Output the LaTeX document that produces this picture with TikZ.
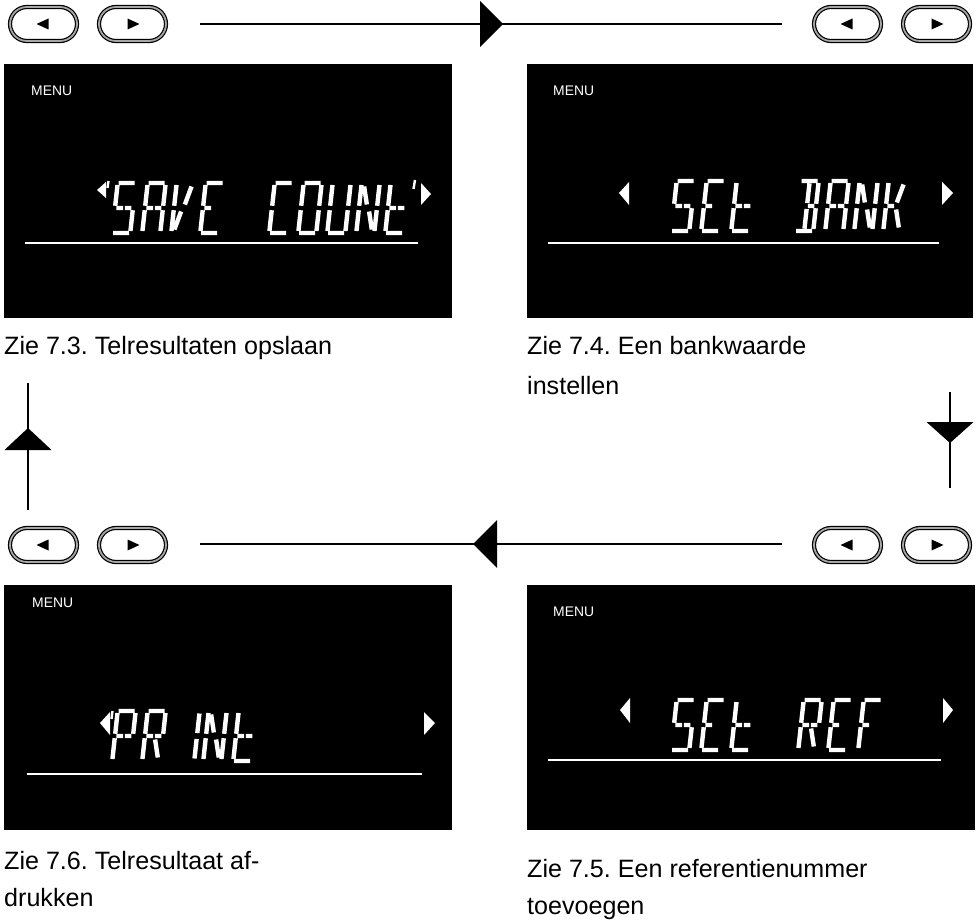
\documentclass[tikz,border=0pt]{standalone}
\usepackage{fontspec}
\setmainfont{Liberation Sans}
\frenchspacing
\usetikzlibrary{decorations.markings}
\tikzset{
  screen/.style={fill=black,draw=none},
  uline/.style={draw=white,line width=1.8pt},
  menu/.style={text=white,anchor=base west,inner sep=0pt,font=\fontsize{13.9}{16}\selectfont},
  captxt/.style={anchor=base west,inner sep=0pt,font=\fontsize{25.1}{30}\selectfont},
  btn/.style={draw=black,line width=1.2pt,double=gray!70,double distance=1.8pt,
    rounded corners=17pt,minimum width=67pt,minimum height=34pt,inner sep=0pt},
  conn/.style={draw=black,line width=1.8pt},
  wtri/.style={fill=white,draw=none},
  seg/.style={draw=white,line width=4.4pt,line cap=butt},
  tickmark/.style={draw=white,line width=2.4pt},
  sa/.style={insert path={(2,52)--(18,52)}},
  sd/.style={insert path={(2,2)--(18,2)}},
  sgl/.style={insert path={(2.5,27)--(9.2,27)}},
  sgr/.style={insert path={(10.8,27)--(17.5,27)}},
  sf/.style={insert path={(1,29.2)--(1,50)}},
  se/.style={insert path={(1,4)--(1,24.8)}},
  sb/.style={insert path={(19,29.2)--(19,50)}},
  sc/.style={insert path={(19,4)--(19,24.8)}},
  si/.style={insert path={(10,30)--(10,49.5)}},
  sl/.style={insert path={(10,4.5)--(10,24)}},
  sh/.style={insert path={(3.8,48.5)--(8.5,30.5)}},
  sj/.style={insert path={(16.2,48.5)--(11.5,30.5)}},
  sm/.style={insert path={(8.5,23.5)--(3.8,5.5)}},
  sk/.style={insert path={(11.5,23.5)--(16.2,5.5)}},
  chS/.style={sa,sf,sgl,sgr,sc,sd},
  chA/.style={sa,sb,sc,se,sf,sgl,sgr},
  chV/.style={sf,se,sm,sj},
  chE/.style={sa,sf,se,sd,sgl},
  chC/.style={sa,sf,se,sd},
  chO/.style={sa,sb,sc,sd,se,sf},
  chU/.style={sb,sc,sd,se,sf},
  chN/.style={sf,se,sb,sc,sh,sk},
  chT/.style={sf,se,sd,sgl,sgr},
  chB/.style={sa,sb,sc,sd,sgr,si,sl},
  chK/.style={sf,se,sgl,sj,sk},
  chP/.style={sa,sb,sf,se,sgl,sgr},
  chR/.style={sa,sb,sf,se,sgl,sgr,sk},
  chI/.style={si,sl},
  chF/.style={sa,sf,se,sgl},
}
\newcommand{\lcdch}[3]{\begin{scope}[shift={(#1,-#2)},xslant=0.11]\draw[seg,#3];\end{scope}}
\begin{document}
\begin{tikzpicture}[x=1pt,y=1pt]
\useasboundingbox (0,0) rectangle (979,-920);

% ---------- buttons ----------
\node[btn] (b1l) at (43.5,-24) {};
\node[btn] (b1r) at (132.5,-24) {};
\node[btn] (b2l) at (847.5,-24) {};
\node[btn] (b2r) at (936.5,-24) {};
\node[btn] (b3l) at (43.5,-545) {};
\node[btn] (b3r) at (132.5,-545) {};
\node[btn] (b4l) at (847.5,-545) {};
\node[btn] (b4r) at (936.5,-545) {};
\foreach \n in {b1l,b2l,b3l,b4l}{\fill[shift={(\n.center)}] (-7,0) -- (5,5.5) -- (5,-5.5) -- cycle;}
\foreach \n in {b1r,b2r,b3r,b4r}{\fill[shift={(\n.center)}] (7,0) -- (-5,5.5) -- (-5,-5.5) -- cycle;}

% ---------- screens ----------
\node[screen,anchor=north west,minimum width=448pt,minimum height=254pt,inner sep=0pt] (s1) at (4,-64) {};
\node[screen,anchor=north west,minimum width=446pt,minimum height=254pt,inner sep=0pt] (s2) at (527,-64) {};
\node[screen,anchor=north west,minimum width=448pt,minimum height=245pt,inner sep=0pt] (s3) at (4,-585) {};
\node[screen,anchor=north west,minimum width=448pt,minimum height=245pt,inner sep=0pt] (s4) at (527,-585) {};

\node[menu] (m1) at (31,-96) {MENU};
\node[menu] (m2) at (553,-96) {MENU};
\node[menu] (m3) at (32,-607) {MENU};
\node[menu] (m4) at (553,-616) {MENU};

\draw[uline] (25,-243) -- (418,-243);
\draw[uline] (548,-243) -- (939,-243);
\draw[uline] (27,-774) -- (422,-774);
\draw[uline] (548,-760) -- (941,-760);

% screen 1: SAVE COUNT
\fill[wtri] (97,-190) -- (106,-182) -- (106,-198) -- cycle;
\draw[tickmark] (108.5,-181) -- (107.5,-188);
\lcdch{111}{235}{chS}
\lcdch{141}{235}{chA}
\lcdch{170}{235}{chV}
\lcdch{199}{235}{chE}
\lcdch{268}{235}{chC}
\lcdch{297}{235}{chO}
\lcdch{326}{235}{chU}
\lcdch{355}{235}{chN}
\lcdch{384}{235}{chT}
\draw[tickmark] (415,-180) -- (413.5,-189);
\fill[wtri] (431,-194) -- (421,-183) -- (421,-205) -- cycle;

% screen 2: SEt BANK
\fill[wtri] (619,-193) -- (629,-182) -- (629,-205) -- cycle;
\lcdch{670}{233}{chS}
\lcdch{700}{233}{chE}
\lcdch{730}{233}{chT}
\lcdch{794}{233}{chB}
\lcdch{824}{233}{chA}
\lcdch{853}{233}{chN}
\lcdch{882}{233}{chK}
\fill[wtri] (953,-193) -- (942,-182) -- (942,-205) -- cycle;

% screen 3: PRINt
\fill[wtri] (100,-723) -- (110,-712) -- (110,-735) -- cycle;
\draw[tickmark] (112.5,-711) -- (111.5,-719);
\lcdch{111}{763}{chP}
\lcdch{141}{763}{chR}
\lcdch{184}{763}{chI}
\lcdch{202}{763}{chN}
\lcdch{232}{763}{chT}
\fill[wtri] (435,-723) -- (424,-712) -- (424,-735) -- cycle;

% screen 4: SEt REF
\fill[wtri] (620,-710) -- (630,-698) -- (630,-723) -- cycle;
\lcdch{670}{752}{chS}
\lcdch{700}{752}{chE}
\lcdch{730}{752}{chT}
\lcdch{797}{752}{chR}
\lcdch{827}{752}{chE}
\lcdch{857}{752}{chF}
\fill[wtri] (953,-710) -- (943,-698) -- (943,-723) -- cycle;

% ---------- captions ----------
\node[captxt] (c1) at (4,-354) {Zie 7.3. Telresultaten opslaan};
\node[captxt] (c2a) at (527,-354) {Zie 7.4. Een bankwaarde};
\node[captxt] (c2b) at (527,-394) {instellen};
\node[captxt] (c3a) at (4,-869) {Zie 7.6. Telresultaat af-};
\node[captxt] (c3b) at (4,-906) {drukken};
\node[captxt] (c4a) at (527,-877) {Zie 7.5. Een referentienummer};
\node[captxt] (c4b) at (527,-914) {toevoegen};

% ---------- connectors ----------
\coordinate (t1) at (200,-24);
\coordinate (t2) at (782,-24);
\coordinate (r1) at (950,-392);
\coordinate (r2) at (950,-488);
\coordinate (u1) at (782,-544);
\coordinate (u2) at (200,-544);
\coordinate (l1) at (28,-510);
\coordinate (l2) at (28,-383);
\draw[conn,postaction={decorate},decoration={markings,
  mark=at position 303pt with {\fill (-23,23) -- (0,0) -- (-23,-23) -- cycle;}}] (t1) -- (t2);
\draw[conn,postaction={decorate},decoration={markings,
  mark=at position 51pt with {\fill (-21,23.5) -- (0,0) -- (-21,-23.5) -- cycle;}}] (r1) -- (r2);
\draw[conn,postaction={decorate},decoration={markings,
  mark=at position 309pt with {\fill (-24,24) -- (0,0) -- (-24,-24) -- cycle;}}] (u1) -- (u2);
\draw[conn,postaction={decorate},decoration={markings,
  mark=at position 82pt with {\fill (-22,23.5) -- (0,0) -- (-22,-23.5) -- cycle;}}] (l1) -- (l2);
\end{tikzpicture}
\end{document}
